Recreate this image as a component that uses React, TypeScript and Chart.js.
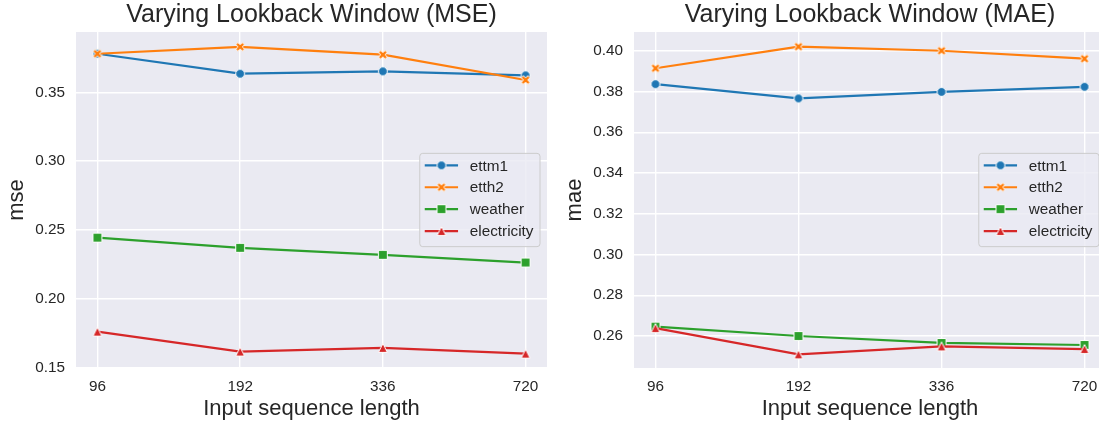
import React, { useEffect, useRef } from "react";
import { Chart, registerables } from "chart.js";

Chart.register(...registerables);

// ---------------- data ----------------
const categories = ["96", "192", "336", "720"];
const seriesNames = ["ettm1", "etth2", "weather", "electricity"];

const mseEttm1 = [0.378, 0.3635, 0.3652, 0.3623];
const mseEtth2 = [0.378, 0.383, 0.3773, 0.3589];
const mseWeather = [0.2444, 0.237, 0.2319, 0.2263];
const mseElectricity = [0.1761, 0.1616, 0.1643, 0.1601];

const maeEttm1 = [0.3836, 0.3766, 0.3798, 0.3823];
const maeEtth2 = [0.3914, 0.402, 0.4, 0.3961];
const maeWeather = [0.2646, 0.26, 0.2566, 0.2556];
const maeElectricity = [0.2639, 0.251, 0.2549, 0.2536];

const mseTicks = [0.15, 0.2, 0.25, 0.3, 0.35];
const maeTicks = [0.26, 0.28, 0.3, 0.32, 0.34, 0.36, 0.38, 0.4];

// ---------------- styles ----------------
const FONT = '"Liberation Sans", Arial, Helvetica, sans-serif';
const TEXT = "#262626";
const colors = ["#1f77b4", "#ff7f0e", "#2ca02c", "#d62728"];
const shapes = ["circle", "x", "square", "triangle"];
const PLOT_BG = "#EAEAF2";

function makeMarker(shape: string, color: string): HTMLCanvasElement {
  const c = document.createElement("canvas");
  c.width = 16;
  c.height = 16;
  const ctx = c.getContext("2d")!;
  ctx.translate(8, 8);
  const s = 8.9;
  ctx.beginPath();
  if (shape === "circle") {
    ctx.arc(0, 0, s / 2, 0, Math.PI * 2);
  } else if (shape === "square") {
    ctx.rect(-s / 2, -s / 2, s, s);
  } else if (shape === "triangle") {
    ctx.moveTo(0, -s / 2);
    ctx.lineTo(s / 2, s / 2);
    ctx.lineTo(-s / 2, s / 2);
    ctx.closePath();
  } else {
    const pts = [
      [-1, -3], [1, -3], [1, -1], [3, -1], [3, 1], [1, 1],
      [1, 3], [-1, 3], [-1, 1], [-3, 1], [-3, -1], [-1, -1],
    ];
    const a = Math.PI / 4;
    pts.forEach(([px, py], i) => {
      const x = (px / 6) * s * 1.05;
      const y = (py / 6) * s * 1.05;
      const rx = x * Math.cos(a) - y * Math.sin(a);
      const ry = x * Math.sin(a) + y * Math.cos(a);
      if (i === 0) ctx.moveTo(rx, ry);
      else ctx.lineTo(rx, ry);
    });
    ctx.closePath();
  }
  ctx.fillStyle = color;
  ctx.fill();
  ctx.strokeStyle = "#ffffff";
  ctx.lineWidth = 1;
  ctx.stroke();
  return c;
}

const bgPlugin = {
  id: "plotBg",
  beforeDraw(chart: any) {
    const { ctx, chartArea } = chart;
    ctx.save();
    ctx.fillStyle = PLOT_BG;
    ctx.fillRect(chartArea.left, chartArea.top, chartArea.right - chartArea.left, chartArea.bottom - chartArea.top);
    ctx.restore();
  },
};

const legendPlugin = {
  id: "boxLegend",
  afterDatasetsDraw(chart: any) {
    const { ctx, chartArea } = chart;
    const ds = chart.data.datasets;
    ctx.save();
    ctx.font = `15.3px ${FONT}`;
    const textW = Math.max(...ds.map((d: any) => ctx.measureText(d.label).width));
    const w = 50 + textW + 6.5;
    const h = 93.3;
    const x0 = chartArea.right - 7 - w;
    const y0 = (chartArea.top + chartArea.bottom) / 2 - h / 2;
    ctx.beginPath();
    const r = 3;
    ctx.moveTo(x0 + r, y0);
    ctx.lineTo(x0 + w - r, y0);
    ctx.arcTo(x0 + w, y0, x0 + w, y0 + r, r);
    ctx.lineTo(x0 + w, y0 + h - r);
    ctx.arcTo(x0 + w, y0 + h, x0 + w - r, y0 + h, r);
    ctx.lineTo(x0 + r, y0 + h);
    ctx.arcTo(x0, y0 + h, x0, y0 + h - r, r);
    ctx.lineTo(x0, y0 + r);
    ctx.arcTo(x0, y0, x0 + r, y0, r);
    ctx.closePath();
    ctx.fillStyle = "rgba(234,234,242,0.8)";
    ctx.fill();
    ctx.strokeStyle = "#cccccc";
    ctx.lineWidth = 1;
    ctx.stroke();
    ds.forEach((d: any, i: number) => {
      const y = y0 + 12 + i * 21.9;
      ctx.beginPath();
      ctx.strokeStyle = d.borderColor;
      ctx.lineWidth = d.borderWidth;
      ctx.moveTo(x0 + 5, y);
      ctx.lineTo(x0 + 38.3, y);
      ctx.stroke();
      const img = d.pointStyle as HTMLCanvasElement;
      ctx.drawImage(img, x0 + 21.7 - img.width / 2, y - img.height / 2);
      ctx.fillStyle = TEXT;
      ctx.textBaseline = "middle";
      ctx.textAlign = "left";
      ctx.fillText(d.label, x0 + 50, y + 1);
    });
    ctx.restore();
  },
};

interface PanelProps {
  title: string;
  yLabel: string;
  series: number[][];
  yTicks: number[];
  yMin: number;
  yMax: number;
  left: number;
  width: number;
  yAxisWidth: number;
  padRight: number;
  yTitlePad: number;
}

function Panel(p: PanelProps) {
  const ref = useRef<HTMLCanvasElement>(null);
  useEffect(() => {
    const markers = shapes.map((s, i) => makeMarker(s, colors[i]));
    const tickFont = { family: FONT, size: 15.3 };
    const chart = new Chart(ref.current!, {
      type: "line",
      data: {
        datasets: p.series.map((vals, k) => ({
          label: seriesNames[k],
          data: vals.map((v, i) => ({ x: i, y: v })),
          borderColor: colors[k],
          backgroundColor: colors[k],
          borderWidth: 2.2,
          pointStyle: markers[k] as any,
          pointRadius: 5,
          pointHoverRadius: 5,
          tension: 0,
          fill: false,
          order: 3 - k,
        })),
      },
      options: {
        animation: false,
        responsive: false,
        maintainAspectRatio: false,
        devicePixelRatio: 1,
        layout: { padding: { left: 0, right: p.padRight, top: 0, bottom: 0 } },
        plugins: {
          legend: { display: false },
          tooltip: { enabled: false },
          title: {
            display: true,
            text: p.title,
            color: TEXT,
            fullSize: false,
            font: { family: FONT, size: 25, weight: "normal" },
            padding: { top: 0, bottom: 2 },
          },
        },
        scales: {
          x: {
            type: "linear",
            min: -0.15,
            max: 3.15,
            afterBuildTicks: (s: any) => {
              s.ticks = categories.map((_, i) => ({ value: i }));
            },
            afterFit: (s: any) => {
              s.height = 57;
            },
            grid: { color: "#ffffff", lineWidth: 1.4, drawTicks: false },
            border: { display: false },
            ticks: {
              callback: (v: any) => categories[Math.round(Number(v))],
              color: TEXT,
              font: tickFont,
              padding: 9.5,
              maxRotation: 0,
              autoSkip: false,
            },
            title: {
              display: true,
              text: "Input sequence length",
              color: TEXT,
              font: { family: FONT, size: 22 },
              padding: { top: 0, bottom: 3 },
            },
          },
          y: {
            type: "linear",
            min: p.yMin,
            max: p.yMax,
            afterBuildTicks: (s: any) => {
              s.ticks = p.yTicks.map((v) => ({ value: v }));
            },
            afterFit: (s: any) => {
              s.width = p.yAxisWidth;
            },
            grid: { color: "#ffffff", lineWidth: 1.4, drawTicks: false },
            border: { display: false },
            ticks: {
              callback: (v: any) => Number(v).toFixed(2),
              color: TEXT,
              font: tickFont,
              padding: 11,
            },
            title: {
              display: true,
              text: p.yLabel,
              color: TEXT,
              font: { family: FONT, size: 22 },
              padding: { top: p.yTitlePad, bottom: 0 },
            },
          },
        },
      },
      plugins: [bgPlugin, legendPlugin],
    } as any);
    return () => chart.destroy();
  }, []);
  return (
    <canvas
      ref={ref}
      width={p.width}
      height={425}
      style={{ position: "absolute", left: p.left, top: 0, width: p.width, height: 425 }}
    />
  );
}

export default function App() {
  return (
    <div
      style={{
        position: "fixed",
        left: 0,
        top: 0,
        width: 1099,
        height: 425,
        overflow: "hidden",
        background: "#ffffff",
      }}
    >
      <Panel
        title="Varying Lookback Window (MSE)"
        yLabel="mse"
        series={[mseEttm1, mseEtth2, mseWeather, mseElectricity]}
        yTicks={mseTicks}
        yMin={0.1497}
        yMax={0.3938}
        left={0}
        width={560}
        yAxisWidth={76}
        padRight={13}
        yTitlePad={3.3}
      />
      <Panel
        title="Varying Lookback Window (MAE)"
        yLabel="mae"
        series={[maeEttm1, maeEtth2, maeWeather, maeElectricity]}
        yTicks={maeTicks}
        yMin={0.2443}
        yMax={0.4092}
        left={549}
        width={565}
        yAxisWidth={85}
        padRight={8}
        yTitlePad={13.1}
      />
    </div>
  );
}
